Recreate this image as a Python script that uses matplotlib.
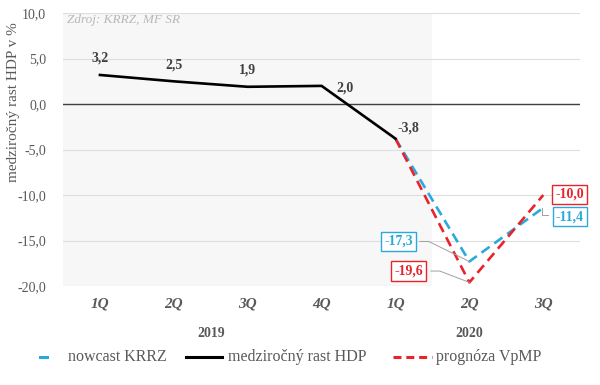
import matplotlib
matplotlib.use("Agg")
import matplotlib.pyplot as plt
from matplotlib.lines import Line2D
import numpy as np

quarters = ["1Q", "2Q", "3Q", "4Q", "1Q", "2Q", "3Q"]
years = ["2019", "2020"]
hdp = [3.2, 2.5, 1.9, 2.0, -3.8]
nowcast = [-3.8, -17.3, -11.4]
prognoza = [-3.8, -19.6, -10.0]
hdp_labels = ["3,2", "2,5", "1,9", "2,0", "-3,8"]
yticks = [10, 5, 0, -5, -10, -15, -20]
ytick_labels = ["10,0", "5,0", "0,0", "-5,0", "-10,0", "-15,0", "-20,0"]

BLUE = "#2aa9dc"
RED = "#e8232b"
GRAY = "#595959"
FONT = "Liberation Serif"
plt.rcParams['font.family'] = [FONT, 'DejaVu Sans']

fig = plt.figure(figsize=(6.0, 3.85), dpi=100)
ax = fig.add_axes([0.105, 0.257, 0.862, 0.709])

x = np.arange(len(quarters))
ax.set_xlim(-0.5, len(quarters) - 0.5)
ax.set_ylim(-20, 10)

# shaded history region
ax.axvspan(-0.5, 4.5, color="#f7f7f7", zorder=0, lw=0)
for yv in yticks:
    ax.axhline(yv, color="#dedede", lw=0.8, zorder=1)
ax.axhline(0, color="#404040", lw=1.0, zorder=2)

ax.plot(x[:5], hdp, color="black", lw=1.9, zorder=4)
ax.plot(x[4:], nowcast, color=BLUE, lw=1.9, ls=(0, (3.8, 2.2)), zorder=3)
ax.plot(x[4:], prognoza, color=RED, lw=1.9, ls=(0, (3.8, 2.2)), zorder=3)

# labels for HDP
offs = [(0, 1.85), (0, 1.8), (0, 1.8), (0.32, -0.25), (0.17, 1.2)]
for i, (v, lab) in enumerate(zip(hdp, hdp_labels)):
    ax.text(x[i] + offs[i][0], v + offs[i][1], lab, ha="center", va="center",
            fontsize=10, fontweight="bold", color="#404040")

def boxed(xt, yt, txt, col):
    ax.text(xt, yt, txt, ha="center", va="center", fontsize=10, fontweight="bold",
            color=col, zorder=6,
            bbox=dict(boxstyle="square,pad=0.22", fc="white", ec=col, lw=1.0))

boxed(4.04, -15.1, "-17,3", BLUE)
boxed(4.18, -18.35, "-19,6", RED)
boxed(6.36, -9.9, "-10,0", RED)
boxed(6.36, -12.4, "-11,4", BLUE)
lc = "#a0a0a0"
ax.plot([4.33, 4.45, x[5]], [-15.1, -15.1, nowcast[1]], color=lc, lw=0.7, zorder=5)
ax.plot([4.48, 4.6, x[5]], [-18.35, -18.35, prognoza[1]], color=lc, lw=0.7, zorder=5)
ax.plot([5.98, 5.98, 6.06], [-11.4, -12.2, -12.2], color=lc, lw=0.7, zorder=5)

ax.set_yticks(yticks)
ax.set_yticklabels(ytick_labels, fontsize=10, color=GRAY)
ax.set_xticks(x)
ax.set_xticklabels(quarters, fontsize=11, color=GRAY, fontstyle="italic", fontweight="bold")
ax.tick_params(axis="y", length=0, pad=12)
ax.tick_params(axis="x", length=0, pad=8)
for s in ax.spines.values():
    s.set_visible(False)

ax.text(1.5, -25.2, years[0], ha="center", va="center", fontsize=10, fontweight="bold", color=GRAY)
ax.text(5.0, -25.2, years[1], ha="center", va="center", fontsize=10, fontweight="bold", color=GRAY)

ax.text(-0.45, 9.2, "Zdroj: KRRZ, MF SR", fontsize=9.5, fontstyle="italic", color="#b8b8b8",
        ha="left", va="center")

ax.set_ylabel("medziročný rast HDP v %", fontsize=11, color=GRAY)
ax.yaxis.set_label_coords(-0.084, 0.675)

# legend drawn manually in figure pixel coordinates
W, H = 600.0, 385.0
ly = 1 - 357 / H
fig.add_artist(Line2D([40 / W, 47 / W], [ly, ly], color=BLUE, lw=2.2, transform=fig.transFigure))
fig.add_artist(Line2D([186 / W, 222 / W], [ly, ly], color="black", lw=2.2, transform=fig.transFigure))
fig.add_artist(Line2D([393 / W, 432 / W], [ly, ly], color=RED, lw=2.2, ls=(0, (2.6, 1.6)),
                      transform=fig.transFigure))
labels = ["nowcast KRRZ", "medziročný rast HDP", "prognóza VpMP"]
for lx, lab in zip([68, 228, 436], labels):
    fig.text(lx / W, ly, lab, fontsize=11.5, color=GRAY, ha="left", va="center")

fig.savefig("out.png", dpi=100)
